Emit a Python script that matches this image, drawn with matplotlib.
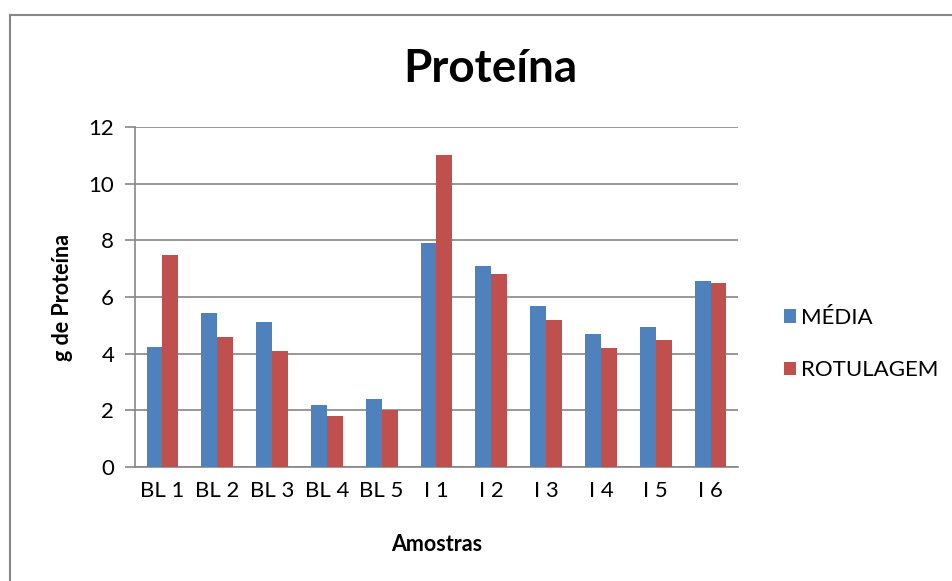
import matplotlib.pyplot as plt
import numpy as np
from matplotlib.lines import Line2D

plt.rcParams['font.family'] = ['Lato', 'DejaVu Sans']

# dados
amostras = ['BL 1', 'BL 2', 'BL 3', 'BL 4', 'BL 5', 'I 1', 'I 2', 'I 3', 'I 4', 'I 5', 'I 6']
media = [4.25, 5.43, 5.12, 2.2, 2.42, 7.9, 7.1, 5.68, 4.7, 4.93, 6.58]
rotulagem = [7.5, 4.6, 4.1, 1.8, 2.0, 11.0, 6.8, 5.2, 4.2, 4.5, 6.5]
series = ['MÉDIA', 'ROTULAGEM']

azul = '#4F81BD'
vermelho = '#C0504D'
cinza = '#868686'

fig = plt.figure(figsize=(9.52, 5.81), dpi=100)
ax = fig.add_axes([0.1418, 0.196, 0.7752 - 0.1418, 0.7814 - 0.196])

x = np.arange(len(amostras))
w = 0.29
ax.bar(x - w / 2, media, w, color=azul, label=series[0], zorder=3)
ax.bar(x + w / 2, rotulagem, w, color=vermelho, label=series[1], zorder=3)

ax.set_xlim(-0.5, len(amostras) - 0.5)
ax.set_ylim(0, 12)
ax.set_yticks(range(0, 13, 2))
ax.set_xticks(x)
ax.set_xticklabels(amostras)
ax.yaxis.grid(True, color=cinza, linewidth=1.2, zorder=0)

for lado in ['top', 'right']:
    ax.spines[lado].set_visible(False)
ax.spines['left'].set_color(cinza)
ax.spines['bottom'].set_color(cinza)
ax.spines['left'].set_linewidth(1.2)
ax.spines['bottom'].set_linewidth(1.2)
ax.tick_params(axis='y', length=7, color=cinza, width=1.2, labelsize=16, pad=8)
ax.tick_params(axis='x', length=0, labelsize=16, pad=10)

ax.set_xlabel('Amostras', fontsize=15.5, fontweight='bold', labelpad=24)
ax.set_ylabel('g de Proteína', fontsize=15.5, fontweight='bold', labelpad=11)
fig.text(0.515, 0.882, 'Proteína', fontsize=33, fontweight='bold', ha='center', va='center')

fig.legend(loc='center left', bbox_to_anchor=(0.802, 0.408), frameon=False,
           fontsize=16, handlelength=0.55, handleheight=0.55, handletextpad=0.25,
           labelspacing=1.45)

# borda do gráfico
fig.add_artist(Line2D([10 / 952, 1], [1 - 15 / 581, 1 - 15 / 581], color=cinza, linewidth=1.5))
fig.add_artist(Line2D([10 / 952, 10 / 952], [0, 1 - 15 / 581], color=cinza, linewidth=1.5))

fig.savefig('out.png', dpi=100)
